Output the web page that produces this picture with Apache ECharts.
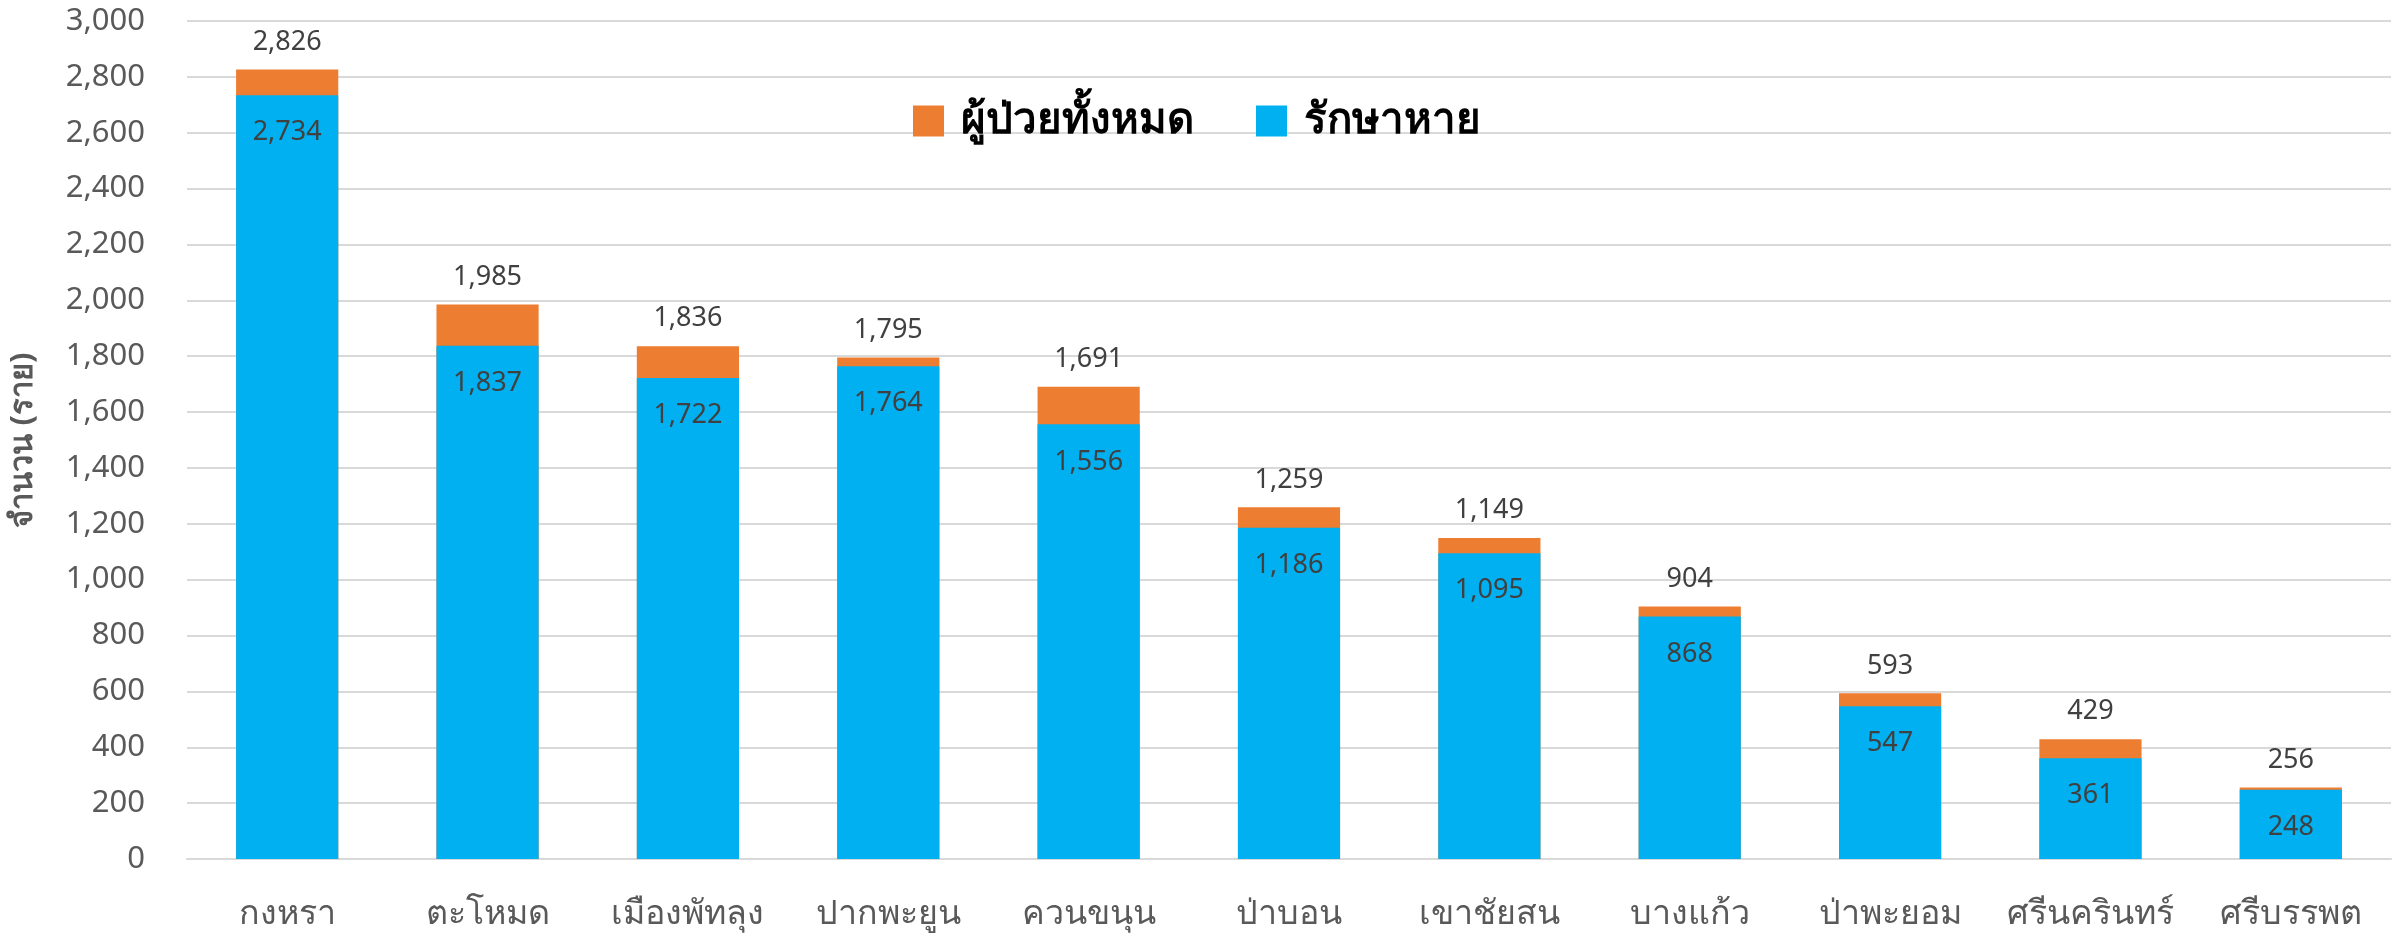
<!DOCTYPE html>
<html>
<head>
<meta charset="utf-8">
<script src="https://cdn.jsdelivr.net/npm/echarts@6/dist/echarts.min.js"></script>
<style>
  html, body { margin: 0; padding: 0; background: #fff; }
  #chart { width: 2394px; height: 939px; }
</style>
</head>
<body>
<div id="chart"></div>
<script>
// ข้อมูลรายตำบล
const categories = ['กงหรา', 'ตะโหมด', 'เมืองพัทลุง', 'ปากพะยูน', 'ควนขนุน', 'ป่าบอน', 'เขาชัยสน', 'บางแก้ว', 'ป่าพะยอม', 'ศรีนครินทร์', 'ศรีบรรพต'];
const totalPatients = [2826, 1985, 1836, 1795, 1691, 1259, 1149, 904, 593, 429, 256];
const recovered = [2734, 1837, 1722, 1764, 1556, 1186, 1095, 868, 547, 361, 248];
const seriesNames = ['ผู้ป่วยทั้งหมด', 'รักษาหาย'];
const yAxisName = 'จำนวน (ราย)';

const fmt = v => Number(v).toLocaleString('en-US');
const FONT = 'Noto Sans, sans-serif';

var dom = document.getElementById('chart');
var myChart = echarts.init(dom, null, { renderer: 'canvas' });

const option = {
    animation: false,
    textStyle: { fontFamily: FONT },
    legend: {
        data: seriesNames,
        left: 'center',
        top: 95,
        itemWidth: 31,
        itemHeight: 31,
        itemGap: 62,
        icon: 'rect',
        textStyle: {
            fontFamily: FONT,
            fontWeight: 'bold',
            fontSize: 42,
            color: '#000',
            padding: [0, 0, 0, 12]
        }
    },
    grid: {
        left: 180,
        right: 3,
        top: 21,
        bottom: 80
    },
    xAxis: {
        type: 'category',
        data: categories,
        axisLine: { lineStyle: { color: '#D9D9D9', width: 2 } },
        axisTick: { show: false },
        axisLabel: {
            interval: 0,
            margin: 38,
            fontSize: 34,
            color: '#595959',
            fontFamily: FONT
        }
    },
    yAxis: {
        type: 'value',
        min: 0,
        max: 3000,
        interval: 200,
        name: yAxisName,
        nameLocation: 'middle',
        nameGap: 148,
        nameRotate: 90,
        nameTextStyle: {
            fontFamily: FONT,
            fontWeight: 'bold',
            fontSize: 31,
            color: '#595959'
        },
        axisLine: { show: false },
        axisTick: { show: false },
        axisLabel: {
            margin: 42,
            fontSize: 31,
            color: '#595959',
            fontFamily: FONT,
            formatter: fmt
        },
        splitLine: { lineStyle: { color: '#D9D9D9', width: 2 } }
    },
    series: [
        {
            name: seriesNames[0],
            type: 'bar',
            data: totalPatients,
            barWidth: '51%',
            barGap: '-100%',
            itemStyle: { color: '#ED7D31' },
            label: {
                show: true,
                position: 'top',
                distance: 14,
                fontSize: 27,
                color: '#404040',
                fontFamily: FONT,
                formatter: p => fmt(p.value)
            }
        },
        {
            name: seriesNames[1],
            type: 'bar',
            data: recovered,
            barWidth: '51%',
            itemStyle: { color: '#00B0F0' },
            label: {
                show: true,
                position: 'insideTop',
                distance: 24,
                fontSize: 27,
                color: '#404040',
                fontFamily: FONT,
                formatter: p => fmt(p.value)
            }
        }
    ]
};

myChart.setOption(option);
window.addEventListener('resize', myChart.resize);
</script>
</body>
</html>
